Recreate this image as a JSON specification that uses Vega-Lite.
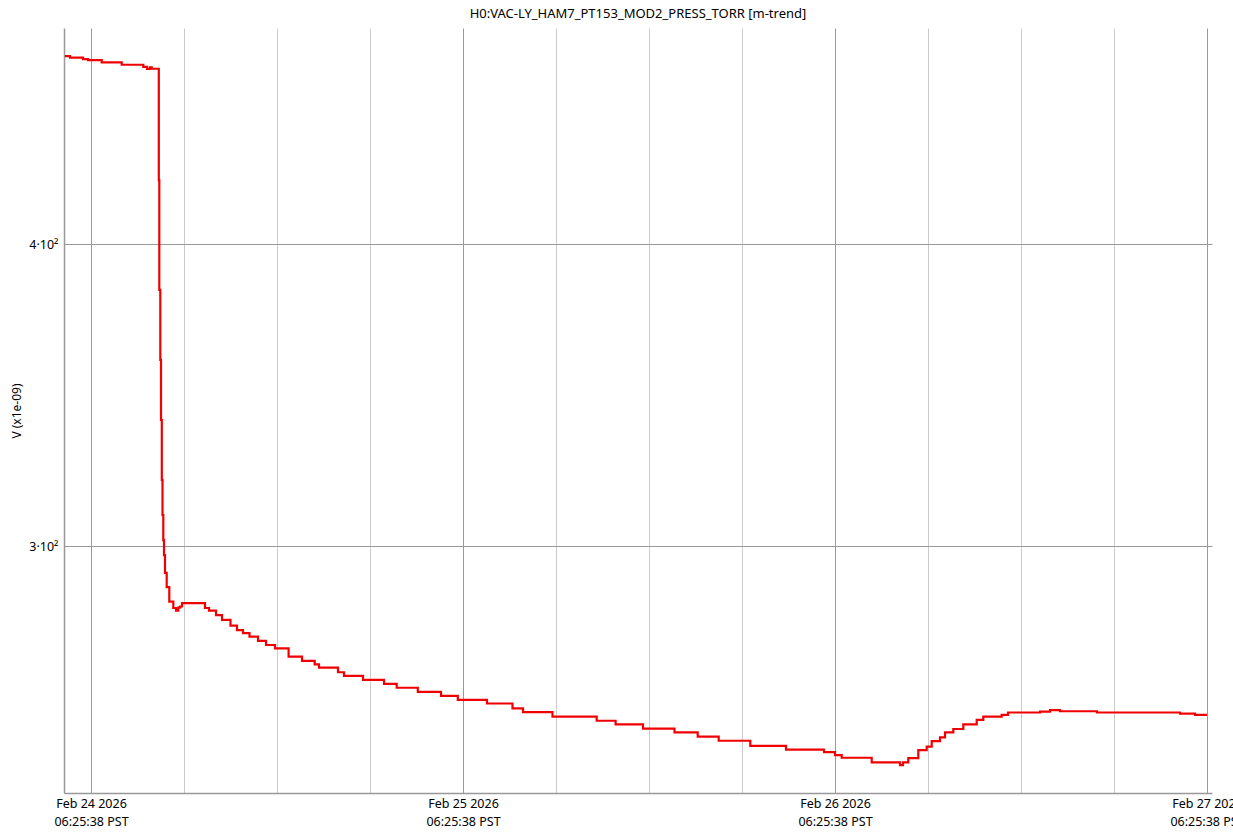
{
  "$schema": "https://vega.github.io/schema/vega-lite/v6.json",
  "autosize": {"type": "none"},
  "width": 1148,
  "height": 765,
  "padding": {"left": 64, "top": 28, "right": 21, "bottom": 46},
  "background": "white",
  "config": {
    "font": "Noto Sans",
    "view": {"stroke": null},
    "axis": {"labelFont": "Noto Sans", "titleFont": "Noto Sans", "labelColor": "#000000", "titleColor": "#000000"}
  },
  "title": {"text": "H0:VAC-LY_HAM7_PT153_MOD2_PRESS_TORR [m-trend]", "fontSize": 13, "fontWeight": "normal", "font": "Noto Sans", "color": "#000000", "offset": 7},
  "data": {"values": [
    {"time": "2026-02-24T04:44:59", "value": 478.4},
    {"time": "2026-02-24T05:04:21", "value": 477.7},
    {"time": "2026-02-24T05:54:40", "value": 477.0},
    {"time": "2026-02-24T06:14:01", "value": 476.6},
    {"time": "2026-02-24T07:07:03", "value": 475.6},
    {"time": "2026-02-24T08:24:28", "value": 474.5},
    {"time": "2026-02-24T09:48:05", "value": 473.5},
    {"time": "2026-02-24T10:02:24", "value": 472.6},
    {"time": "2026-02-24T10:14:01", "value": 473.3},
    {"time": "2026-02-24T10:20:36", "value": 472.7},
    {"time": "2026-02-24T10:46:55", "value": 472.7},
    {"time": "2026-02-24T10:48:05", "value": 425.1},
    {"time": "2026-02-24T10:50:01", "value": 382.9},
    {"time": "2026-02-24T10:53:54", "value": 358.2},
    {"time": "2026-02-24T10:56:36", "value": 338.3},
    {"time": "2026-02-24T10:59:42", "value": 319.5},
    {"time": "2026-02-24T11:02:24", "value": 309.0},
    {"time": "2026-02-24T11:05:30", "value": 301.7},
    {"time": "2026-02-24T11:08:13", "value": 297.4},
    {"time": "2026-02-24T11:12:05", "value": 292.4},
    {"time": "2026-02-24T11:18:40", "value": 288.5},
    {"time": "2026-02-24T11:28:44", "value": 284.5},
    {"time": "2026-02-24T11:44:13", "value": 282.8},
    {"time": "2026-02-24T11:54:40", "value": 282.1},
    {"time": "2026-02-24T12:03:34", "value": 282.9},
    {"time": "2026-02-24T12:10:09", "value": 283.2},
    {"time": "2026-02-24T12:17:54", "value": 284.1},
    {"time": "2026-02-24T13:46:55", "value": 282.8},
    {"time": "2026-02-24T14:02:24", "value": 282.1},
    {"time": "2026-02-24T14:29:30", "value": 280.9},
    {"time": "2026-02-24T14:52:44", "value": 279.6},
    {"time": "2026-02-24T15:25:38", "value": 278.1},
    {"time": "2026-02-24T15:50:48", "value": 276.9},
    {"time": "2026-02-24T16:14:01", "value": 276.1},
    {"time": "2026-02-24T16:39:11", "value": 275.2},
    {"time": "2026-02-24T17:12:05", "value": 274.1},
    {"time": "2026-02-24T17:43:03", "value": 273.0},
    {"time": "2026-02-24T18:17:54", "value": 272.1},
    {"time": "2026-02-24T19:10:32", "value": 270.0},
    {"time": "2026-02-24T20:02:24", "value": 268.9},
    {"time": "2026-02-24T20:51:34", "value": 268.0},
    {"time": "2026-02-24T21:08:13", "value": 267.2},
    {"time": "2026-02-24T22:21:46", "value": 266.0},
    {"time": "2026-02-24T22:44:59", "value": 265.1},
    {"time": "2026-02-24T23:58:32", "value": 264.1},
    {"time": "2026-02-25T01:19:49", "value": 263.1},
    {"time": "2026-02-25T02:08:59", "value": 262.1},
    {"time": "2026-02-25T03:30:40", "value": 261.1},
    {"time": "2026-02-25T05:00:28", "value": 260.1},
    {"time": "2026-02-25T06:05:30", "value": 259.1},
    {"time": "2026-02-25T07:58:32", "value": 258.2},
    {"time": "2026-02-25T09:37:15", "value": 257.0},
    {"time": "2026-02-25T10:17:54", "value": 256.1},
    {"time": "2026-02-25T12:12:05", "value": 255.0},
    {"time": "2026-02-25T15:03:11", "value": 254.0},
    {"time": "2026-02-25T16:16:21", "value": 253.1},
    {"time": "2026-02-25T18:02:24", "value": 252.1},
    {"time": "2026-02-25T20:04:21", "value": 251.2},
    {"time": "2026-02-25T21:34:09", "value": 250.2},
    {"time": "2026-02-25T22:55:27", "value": 249.2},
    {"time": "2026-02-26T00:57:46", "value": 248.0},
    {"time": "2026-02-26T03:15:57", "value": 247.1},
    {"time": "2026-02-26T05:43:03", "value": 246.5},
    {"time": "2026-02-26T06:25:38", "value": 245.8},
    {"time": "2026-02-26T06:51:34", "value": 245.2},
    {"time": "2026-02-26T08:47:42", "value": 244.1},
    {"time": "2026-02-26T10:37:15", "value": 243.5},
    {"time": "2026-02-26T10:48:52", "value": 244.1},
    {"time": "2026-02-26T11:09:22", "value": 245.1},
    {"time": "2026-02-26T11:48:05", "value": 247.0},
    {"time": "2026-02-26T12:20:36", "value": 247.8},
    {"time": "2026-02-26T12:39:57", "value": 249.1},
    {"time": "2026-02-26T13:12:05", "value": 250.0},
    {"time": "2026-02-26T13:31:27", "value": 251.2},
    {"time": "2026-02-26T14:03:34", "value": 252.0},
    {"time": "2026-02-26T14:42:17", "value": 253.1},
    {"time": "2026-02-26T15:34:09", "value": 254.2},
    {"time": "2026-02-26T15:59:42", "value": 255.0},
    {"time": "2026-02-26T17:10:55", "value": 255.4},
    {"time": "2026-02-26T17:35:19", "value": 256.0},
    {"time": "2026-02-26T19:39:11", "value": 256.2},
    {"time": "2026-02-26T20:17:54", "value": 256.6},
    {"time": "2026-02-26T20:56:36", "value": 256.3},
    {"time": "2026-02-26T23:19:49", "value": 256.0},
    {"time": "2026-02-27T04:41:07", "value": 255.7},
    {"time": "2026-02-27T05:39:11", "value": 255.4},
    {"time": "2026-02-27T06:25:38", "value": 255.4}
  ]},
  "layer": [
    {
      "mark": {"type": "line", "opacity": 0},
      "encoding": {
        "x": {"field": "time", "type": "temporal", "scale": {"type": "utc", "domain": ["2026-02-24T04:41:07", "2026-02-27T06:44:59"]},
          "axis": {"orient": "top", "title": null, "labels": false, "ticks": false, "domain": false, "grid": true, "gridColor": "#cccccc", "gridWidth": 1,
            "values": ["2026-02-24T12:25:38", "2026-02-24T18:25:38", "2026-02-25T00:25:38", "2026-02-25T12:25:38", "2026-02-25T18:25:38", "2026-02-26T00:25:38", "2026-02-26T12:25:38", "2026-02-26T18:25:38", "2026-02-27T00:25:38"]}},
        "y": {"field": "value", "type": "quantitative", "scale": {"type": "log", "domain": [237.1, 491.4], "nice": false},
          "axis": {"title": "V (x1e-09)", "titleFontSize": 12, "titleFontWeight": "normal", "titlePadding": 5, "grid": true, "gridColor": "#999999", "gridWidth": 1, "ticks": false, "domain": true, "domainColor": "#999999", "domainWidth": 1.5,
            "labelFontSize": 12.5, "labelPadding": 6, "values": [300, 400],
            "labelExpr": "datum.value == 300 ? '3·10²' : '4·10²'"}}
      }
    },
    {
      "mark": {"type": "line", "color": "#f00000", "strokeWidth": 2.2, "interpolate": "step-after", "clip": true},
      "encoding": {
        "x": {"field": "time", "type": "temporal", "scale": {"type": "utc", "domain": ["2026-02-24T04:41:07", "2026-02-27T06:44:59"]},
          "axis": {"orient": "bottom", "title": null, "grid": true, "gridColor": "#999999", "gridWidth": 1, "ticks": false, "domain": true, "domainColor": "#999999", "domainWidth": 1.5,
            "labelFontSize": 12.5, "labelPadding": 4, "labelAlign": "center", "labelLineHeight": 18,
            "values": ["2026-02-24T06:25:38", "2026-02-25T06:25:38", "2026-02-26T06:25:38", "2026-02-27T06:25:38"],
            "labelExpr": "[utcFormat(datum.value, '%b %d %Y'), utcFormat(datum.value, '%H:%M:%S') + ' PST']"}},
        "y": {"field": "value", "type": "quantitative", "scale": {"type": "log", "domain": [237.1, 491.4], "nice": false},
          "axis": {"title": "V (x1e-09)", "titleFontSize": 12, "titleFontWeight": "normal", "titlePadding": 5, "grid": true, "gridColor": "#999999", "gridWidth": 1, "ticks": false, "domain": true, "domainColor": "#999999", "domainWidth": 1.5,
            "labelFontSize": 12.5, "labelPadding": 6, "values": [300, 400],
            "labelExpr": "datum.value == 300 ? '3·10²' : '4·10²'"}}
      }
    }
  ],
  "resolve": {"axis": {"x": "independent"}}
}
